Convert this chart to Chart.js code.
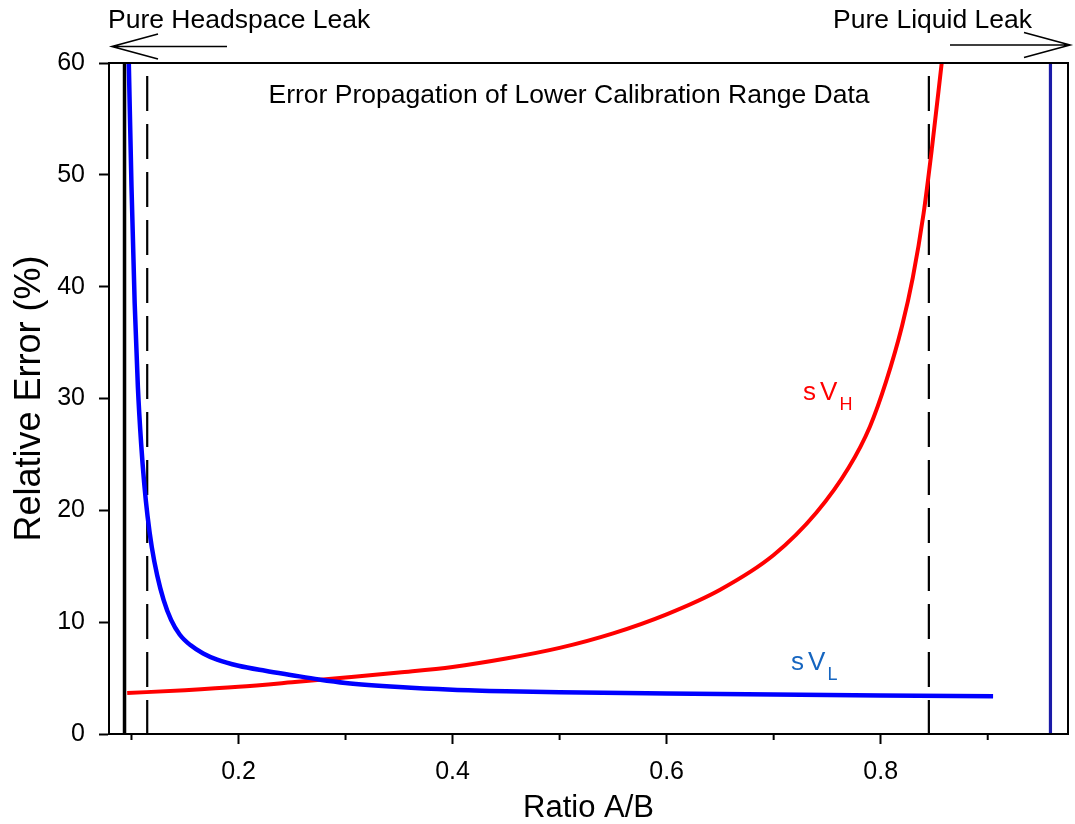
<!DOCTYPE html>
<html>
<head>
<meta charset="utf-8">
<script src="https://cdn.jsdelivr.net/npm/chart.js@4"></script>
<style>
  html, body { margin: 0; padding: 0; background: #fff; }
  #wrap { width: 1075px; height: 824px; }
</style>
</head>
<body>
<div id="wrap"><canvas id="c" width="1075" height="824"></canvas></div>
<script>
// ---- data ----
const ratioL = [0.0975, 0.1, 0.103, 0.106, 0.109, 0.112, 0.115, 0.119, 0.124, 0.13, 0.137, 0.145, 0.155, 0.167, 0.18, 0.2, 0.225, 0.25, 0.275, 0.3, 0.35, 0.4, 0.45, 0.5, 0.6, 0.7, 0.8, 0.905];
const errorL = [60, 49, 38.5, 31, 26, 22.3, 19.5, 16.7, 14.2, 12.0, 10.2, 8.9, 7.95, 7.2, 6.65, 6.1, 5.65, 5.26, 4.88, 4.57, 4.2, 3.96, 3.82, 3.73, 3.62, 3.53, 3.45, 3.38];

const ratioH = [0.096, 0.15, 0.2, 0.25, 0.3, 0.35, 0.4, 0.45, 0.5, 0.55, 0.6, 0.65, 0.7, 0.74, 0.77, 0.79, 0.805, 0.82, 0.83, 0.84, 0.848, 0.857];
const errorH = [3.66, 3.92, 4.22, 4.62, 5.05, 5.5, 6.0, 6.75, 7.7, 9.0, 10.7, 12.9, 16.0, 19.8, 23.8, 27.5, 31.5, 36.5, 40.8, 46.5, 52.5, 60];

const solidMarkers = [0.0935];
const dashedMarkers = [0.1147, 0.845];
const liquidMarkers = [0.9586];

const xTickLabels = ['0.2', '0.4', '0.6', '0.8'];
const yTickValues = [0, 10, 20, 30, 40, 50, 60];

const X_MIN = 0.079, X_MAX = 0.975, Y_MIN = 0, Y_MAX = 60;
const FONT = '"Liberation Sans", Arial, Helvetica, sans-serif';

const pts = (xs, ys) => xs.map((x, i) => ({ x: x, y: ys[i] }));
const vline = (x) => [{ x: x, y: Y_MAX }, { x: x, y: Y_MIN }];

const datasets = [
  { label: 'sVL', data: pts(ratioL, errorL), borderColor: '#0000ff', borderWidth: 4.5,
    pointRadius: 0, cubicInterpolationMode: 'monotone', order: 0 },
  { label: 'sVH', data: pts(ratioH, errorH), borderColor: '#ff0000', borderWidth: 4,
    pointRadius: 0, cubicInterpolationMode: 'monotone', order: 0 }
];
solidMarkers.forEach(m => datasets.push({ label: 'solid', data: vline(m), borderColor: '#000',
  borderWidth: 3.5, pointRadius: 0, tension: 0, order: 2 }));
dashedMarkers.forEach(m => datasets.push({ label: 'dashed', data: vline(m), borderColor: '#000',
  borderWidth: 2.2, borderDash: [35, 13], borderDashOffset: 35, pointRadius: 0, tension: 0, order: 1 }));
liquidMarkers.forEach(m => datasets.push({ label: 'liquid', data: vline(m), borderColor: '#1a1aa8',
  borderWidth: 3.2, pointRadius: 0, tension: 0, order: 2 }));

const isMajor = v => xTickLabels.includes((Math.round(v * 10) / 10).toFixed(1));

const annot = {
  id: 'annot',
  afterDraw(chart) {
    const { ctx, chartArea: a, scales: { x, y } } = chart;
    ctx.save();
    // frame
    ctx.strokeStyle = '#000'; ctx.lineWidth = 2;
    ctx.strokeRect(a.left, a.top, a.right - a.left, a.bottom - a.top);
    // minor x ticks
    x.ticks.forEach(t => {
      if (!isMajor(t.value)) {
        const px = x.getPixelForValue(t.value);
        ctx.beginPath(); ctx.moveTo(px, a.bottom); ctx.lineTo(px, a.bottom + 6); ctx.stroke();
      }
    });
    // inner title
    ctx.fillStyle = '#000';
    ctx.textBaseline = 'alphabetic';
    ctx.font = '26.5px ' + FONT;
    ctx.textAlign = 'center';
    ctx.fillText('Error Propagation of Lower Calibration Range Data', x.getPixelForValue(0.5088), y.getPixelForValue(56.4));
    // series labels
    const lab = (xv, yv, color, sub, gap) => {
      const px = x.getPixelForValue(xv), py = y.getPixelForValue(yv);
      ctx.fillStyle = color; ctx.textAlign = 'left';
      ctx.font = '26px ' + FONT;
      ctx.fillText('s', px, py);
      const vx = px + ctx.measureText('s').width + gap;
      ctx.fillText('V', vx, py);
      const hx = vx + ctx.measureText('V').width + 2;
      ctx.font = '18px ' + FONT;
      ctx.fillText(sub, hx, py + 10);
    };
    lab(0.7275, 29.87, '#ff0000', 'H', 4);
    lab(0.7163, 5.7, '#1565c0', 'L', 4);
    // top annotations with arrows
    ctx.fillStyle = '#000';
    ctx.font = '26.5px ' + FONT;
    ctx.textAlign = 'left';
    ctx.fillText('Pure Headspace Leak', a.left - 1, 28);
    ctx.textAlign = 'right';
    ctx.fillText('Pure Liquid Leak', 1032, 28);
    ctx.strokeStyle = '#000'; ctx.lineWidth = 1.6;
    const arrow = (x0, x1, yy, dir) => {
      ctx.beginPath(); ctx.moveTo(x0, yy); ctx.lineTo(x1, yy);
      ctx.moveTo(x1 - dir * 46, yy - 12.5); ctx.lineTo(x1, yy); ctx.lineTo(x1 - dir * 46, yy + 12.5);
      ctx.stroke();
    };
    arrow(a.left + 118, a.left + 3, 46.5, -1);
    arrow(950, a.right + 2, 45, 1);
    ctx.restore();
  }
};

new Chart(document.getElementById('c'), {
  type: 'line',
  data: { datasets: datasets },
  options: {
    responsive: false,
    animation: false,
    devicePixelRatio: 1,
    layout: { padding: { top: 63, right: 7, left: 0, bottom: 0 } },
    plugins: { legend: { display: false }, tooltip: { enabled: false } },
    scales: {
      x: {
        type: 'linear', min: X_MIN, max: X_MAX,
        afterFit: s => { s.height = 90; },
        border: { display: true, color: '#000', width: 2 },
        grid: { display: true, drawOnChartArea: false, drawTicks: true, tickLength: 10, tickWidth: 2,
                tickColor: c => (c.tick && isMajor(c.tick.value)) ? '#000' : 'rgba(0,0,0,0)' },
        ticks: { stepSize: 0.1, includeBounds: false, autoSkip: false, maxRotation: 0, padding: 13,
                 color: '#000', font: { family: FONT, size: 25 },
                 callback: v => isMajor(v) ? (Math.round(v * 10) / 10).toFixed(1) : '' },
        title: { display: true, text: 'Ratio A/B', color: '#000', font: { family: FONT, size: 31, lineHeight: 1 },
                 padding: { top: 0, bottom: 0 } }
      },
      y: {
        type: 'linear', min: Y_MIN, max: Y_MAX,
        afterFit: s => { s.width = 109; },
        afterBuildTicks: s => { s.ticks = yTickValues.map(v => ({ value: v })); },
        border: { display: true, color: '#000', width: 2 },
        grid: { display: true, drawOnChartArea: false, drawTicks: true, tickLength: 10, tickWidth: 2, tickColor: '#000' },
        ticks: { padding: 14, color: '#000', font: { family: FONT, size: 25 } },
        title: { display: true, text: 'Relative Error (%)', color: '#000', font: { family: FONT, size: 36, lineHeight: 1 },
                 padding: { top: 12, bottom: 0 } }
      }
    }
  },
  plugins: [annot]
});
</script>
</body>
</html>
